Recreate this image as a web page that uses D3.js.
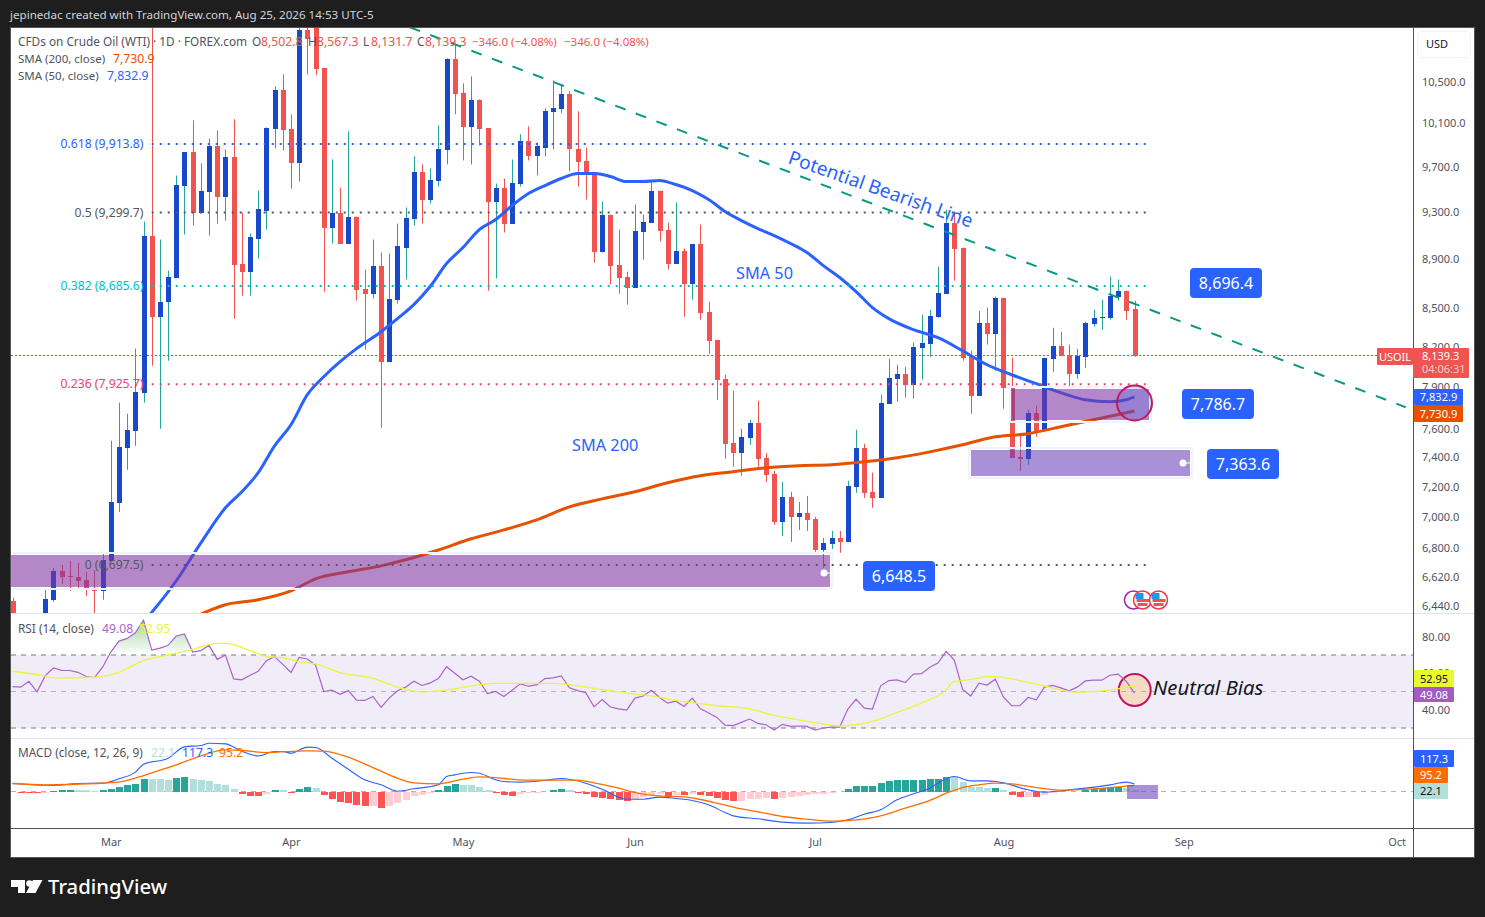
<!DOCTYPE html>
<html>
<head>
<meta charset="utf-8">
<script src="https://d3js.org/d3.v7.min.js"></script>
<style>
body { margin: 0; background: #1e1e1e; overflow: hidden; }
text { font-family: "Noto Sans", "Open Sans", sans-serif; }
</style>
</head>
<body>
<div id="chart"></div>
<script>
// daily candles
var highs = [
  6496,6340,6340,6340,6547,6680,6698,6723,6711,6655,
  6667,6780,7519,7791,7711,8193,9222,11100,9070,8811,
  9627,9836,10134,9736,9965,10040,9863,10144,9300,9120,
  9493,10068,10461,10578,10191,11100,11100,11100,10637,9772,
  9519,10031,9266,8819,9070,8961,8952,9205,9344,9800,
  9727,9690,10087,10737,10889,10490,10559,10335,10059,9555,
  9600,9772,10003,10078,9928,10248,10520,10480,10412,10220,
  9881,9654,9396,9283,9154,8803,9370,9283,9582,9493,
  9214,9388,8994,9028,9197,8560,8262,7996,7878,7604,
  7668,7805,7435,7312,7237,7170,7103,7143,7005,6869,
  6914,6914,7244,7597,7498,7299,7849,8116,8071,8056,
  8239,8456,8496,8844,9327,9292,9002,8177,8488,8512,
  8600,8592,8124,7569,7740,7769,8124,8354,8323,8224,
  8193,8401,8496,8576,8762,8738,8648,8567.3];
var opens = [
  6478,6330,6330,6330,6370,6484,6661,6630,6624,6606,
  6556,6538,6723,7097,7470,7590,7864,9103,8440,8560,
  8754,9537,9836,9300,9484,9891,9440,9790,8869,8803,
  9078,9318,10049,10422,10049,9736,11022,11060,10637,9171,
  9300,9036,9266,8664,8624,8852,8094,8576,9002,9248,
  9654,9414,9582,9854,10727,10393,10068,10325,10059,9388,
  9519,9205,9555,9937,9800,9881,10210,10239,10383,9872,
  9754,9654,8961,9283,8860,8762,8673,9137,9214,9493,
  9154,8869,8977,8705,9028,8480,8262,7966,7505,7435,
  7540,7647,7401,7292,6972,7137,7005,7031,6992,6792,
  6831,6869,6843,7204,7470,7170,7130,7783,7966,8004,
  7922,8200,8231,8440,8624,9214,9002,8139,7842,8393,
  8308,8592,7907,7408,7394,7718,7597,8116,8216,8147,
  8004,8131,8386,8432,8432,8600,8648,8502.8];
var closes = [
  6327,6310,6310,6310,6490,6661,6624,6624,6600,6550,
  6538,6730,7103,7477,7597,7871,9103,8440,8560,8762,
  9546,9836,9300,9493,9891,9440,9790,8860,8803,9087,
  9327,10059,10422,10040,9736,11022,10929,10627,9171,9300,
  9036,9266,8656,8624,8852,8094,8584,9011,9257,9654,
  9414,9591,9863,10727,10383,10068,10325,10049,9388,9519,
  9205,9564,9937,9800,9891,10220,10248,10383,9863,9745,
  9645,8961,9283,8852,8754,8673,9146,9222,9493,9146,
  8869,8977,8705,9028,8472,8254,7959,7498,7435,7547,
  7647,7394,7285,6972,7137,7005,7031,6985,6792,6837,
  6869,6843,7210,7470,7164,7130,7791,7974,8004,7922,
  8208,8239,8448,8632,9214,8994,8124,7842,8393,8308,
  8592,7900,7401,7394,7718,7590,8124,8216,8139,8004,
  8139,8393,8432,8440,8608,8648,8485.3,8139.3];
var lows = [
  6297,6300,6300,6300,6340,6472,6581,6538,6550,6508,
  6370,6484,6723,7037,7319,7484,7791,8064,7604,8101,
  8754,9112,9188,9300,9103,9205,9231,8425,8608,8608,
  8910,9154,9872,9854,9510,9573,10578,10569,8640,9036,
  9036,9036,8568,8185,8584,7611,8094,8544,8738,9188,
  9205,9379,9528,9727,10191,9763,9727,9900,8648,8746,
  9129,9205,9528,9763,9627,9800,9863,10201,9663,9528,
  9414,8877,8961,8697,8624,8536,8673,8902,9214,9053,
  8819,8869,8440,8576,8417,8154,7812,7394,7339,7278,
  7491,7332,7237,6953,6882,6843,6920,6914,6780,6680,
  6799,6774,6843,7164,7130,7064,7130,7783,7798,7827,
  7820,7959,8131,8432,8624,8729,8101,7711,7842,8224,
  8026,7747,7401,7312,7353,7547,7597,8018,8139,7900,
  7966,8048,8362,8339,8417,8568,8417,8131.7];

var sma50Days = [16,20,23,26,28,30,32,34,36,38,40,42,45,47,49,51,53,55,57,59,61,63,65,67,69,71,73,75,77,79,81,83,85,87,89,91,93,95,97,99,101,103,105,107,110,113,116,119,122,125,128,131,134,136,137];
var sma50 = [6350,6600,6837,7064,7170,7299,7484,7632,7849,7981,8094,8193,8323,8425,8536,8681,8869,9002,9154,9240,9362,9467,9537,9600,9645,9645,9618,9573,9573,9582,9546,9493,9414,9309,9231,9163,9103,9036,8961,8852,8754,8640,8512,8425,8339,8277,8177,8071,7996,7930,7864,7812,7798,7812,7832.9];
var sma200Days = [22,26,30,34,37,41,45,48,52,56,60,64,68,72,76,80,84,88,92,96,100,104,108,112,116,120,124,128,132,137];
var sma200 = [6375,6454,6484,6538,6612,6655,6692,6730,6792,6863,6920,6985,7070,7123,7170,7231,7278,7306,7332,7346,7353,7373,7401,7442,7491,7547,7569,7618,7668,7730.9];

var rsi = [
  52.7,52.4,55.6,49.8,58.7,62.9,61.6,61.5,60.5,58.2,
  57.6,63.3,71.6,77.6,79.1,82.2,89.1,72.7,73.8,75.3,
  80.4,81.5,71.6,72.4,75.3,67.6,70,56.9,56.4,58.9,
  61.1,66.9,69.1,64.9,60.4,68.7,67.8,64.5,50,50.7,
  48.5,50.5,45.3,45.1,47.3,41.3,46.4,50.4,52.4,55.6,
  53.3,54.7,57.1,63.6,60,56.4,58.4,55.6,48.9,50,
  47.3,50.7,54.2,52.9,53.6,57.1,57.5,58.5,52,50.5,
  49.3,41.6,45.6,41.5,40.5,39.8,46.4,47.5,50.7,46.7,
  43.6,44.7,41.8,46.4,40.5,38.2,35.8,31.6,31.3,33.1,
  34.9,32.5,31.8,28.9,32,30.9,31.1,30.9,28.9,30,
  30.5,30.5,40.4,45.8,40.9,40.4,53.1,56,56.4,54.9,
  59.5,59.8,63.3,65.6,72,67.1,51.3,47.5,54.5,53.5,
  56.7,46.9,42.2,42.2,46.7,45.5,52.4,53.3,52,50.4,
  52.4,55.8,56.2,56.2,58.9,59.5,55.5,49.08];
var rsiMaDays = [0,4,5,10,13,16,19,22,25,26,29,31,33,35,37,40,44,47,50,53,56,59,62,66,70,74,78,82,86,90,93,96,99,101,102,105,108,111,114,115,116,118,119,120,121,126,129,130,134,136,137];
var rsiMa = [61.1,58.5,57.5,57.8,60.5,66.9,70,73.1,76.4,76.4,72.4,69.3,68.5,66.4,65.1,60.4,57.3,52.4,49.8,50.9,53.1,54.5,54.5,54.5,52.4,49.8,47.6,44.4,42.2,40.5,36.9,34.5,32.2,31.1,31.3,33.6,38.5,43.6,50.9,55.5,56,57.3,58.2,58.2,57.6,53.1,50,49.6,50.7,52.4,52.95];

var macdDays = [0,5,8,11,13,15,16,19,21,23,24,26,28,30,32,33,34,36,37,39,41,43,45,47,49,52,53,54,56,57,59,60,62,65,67,70,72,75,77,79,81,83,85,87,88,91,94,97,100,102,104,106,108,110,112,113,115,117,119,120,121,124,126,128,131,134,136,137];
var macd = [125,94,125,130,198,302,426,520,697,718,754,744,629,556,624,624,598,692,686,520,348,182,104,5,42,104,234,260,296,286,182,156,146,172,203,130,36,-120,-120,-88,-109,-140,-208,-328,-380,-426,-478,-494,-484,-442,-354,-286,-130,-36,52,130,234,166,166,156,135,26,-10,10,52,104,146,117.3];
var signalDays = [0,4,10,13,15,18,20,23,26,28,31,36,38,41,44,47,49,52,55,57,59,60,63,66,69,71,74,76,79,82,84,86,88,91,94,97,100,103,106,109,112,114,116,118,120,122,125,128,132,135,137];
var signal = [125,104,125,146,208,333,416,556,650,640,608,634,629,536,374,208,135,120,192,229,218,203,177,177,177,135,52,-16,-68,-83,-125,-182,-244,-317,-390,-432,-463,-442,-380,-260,-140,-26,62,104,130,120,62,21,42,73,95.2];
var hist = [
  -5,-21,-21.5,-22,-20,10,26,27,21,20,
  10,26,42,73,104,120,198,197,196,182,
  213,229,198,182,166,120,104,42,-36,-68,
  -69,-36,26,25,-21,42,73,57,-52,-114,
  -161,-177,-208,-224,-223,-255,-224,-177,-130,-68,
  -52,-21,26,88,120,104,103,73,26,-21,
  -52,-68,-36,-31,-21,-5,26,42,26,-21,
  -36,-83,-99,-114,-130,-146,-114,-83,-52,-36,
  -68,-52,-53,-36,-52,-68,-99,-130,-146,-145,
  -114,-113,-99,-114,-99,-83,-68,-52,-36,-35,
  -21,-5,42,88,89,90,135,166,182,183,
  184,185,198,199,229,228,151,73,72,57,
  58,21,-52,-83,-82,-83,-47,-21,-10,-9,
  -8,21,42,52,57,73,57,22.1];

var monthDays = [12,34,55,76,98,121,143,169];
var monthLabels = ["Mar","Apr","May","Jun","Jul","Aug","Sep","Oct"];
var priceTicks = [10500,10100,9700,9300,8900,8500,8200,7900,7600,7400,7200,7000,6800,6620,6440];
var rsiTicks = [80,60,40];

var fibLevels = [0.618,0.5,0.382,0.236,0];
var fibPrices = [9913.8,9299.7,8685.6,7925.7,6697.5];
var fibColors = ["#2962ff","#555761","#00bcd4","#ec407a","#555761"];
var lastClose = 8139.3;
var trendDays = [48.5,170.1];
var trendPrices = [11053,7758];

function start(){
    var width = 1485, height = 917;
    var paneLeft = 11, axisX = 1413, frameRight = 1474;
    var mainTop = 27, mainBottom = 613, rsiBottom = 738, macdBottom = 828, frameBottom = 857;

    var svg = d3.select("#chart").append("svg")
        .attr("width", width)
        .attr("height", height);
    var defs = svg.append("defs");

    svg.append("text").attr("x", 10).attr("y", 19).attr("fill", "#d1d4dc")
        .style("font-size", "11.6px")
        .text("jepinedac created with TradingView.com, Aug 25, 2026 14:53 UTC-5");

    svg.append("rect").attr("x", 10.5).attr("y", 27.5)
        .attr("width", frameRight - 10).attr("height", frameBottom - 27)
        .attr("fill", "#fff").attr("stroke", "#555");

    var x = d3.scaleLinear().domain([0, 169]).range([12.5, 12.5 + 169 * 8.19]);
    var y = d3.scaleLog().domain([10500, 6440]).range([82.3, 607.1]);
    var yRsi = d3.scaleLinear().domain([70, 30]).range([655, 728]);
    var yMacd = d3.scaleLinear().domain([0, 757]).range([791.5, 743]);

    function clip(id, top, bottom){
        defs.append("clipPath").attr("id", id).append("rect")
            .attr("x", paneLeft).attr("y", top)
            .attr("width", axisX - paneLeft).attr("height", bottom - top);
    }
    clip("clipMain", mainTop + 1, mainBottom);
    clip("clipRsi", mainBottom, rsiBottom);
    clip("clipMacd", rsiBottom, macdBottom);

    // main pane
    var main = svg.append("g").attr("clip-path", "url(#clipMain)");
    var days = d3.range(closes.length);

    var lastY = Math.floor(y(lastClose)) + 0.5;
    main.append("line").attr("x1", paneLeft).attr("x2", axisX)
        .attr("y1", lastY).attr("y2", lastY)
        .attr("stroke", "#ff3b3b").attr("stroke-dasharray", "2 2")
        .attr("shape-rendering", "crispEdges");

    function upDay(i){ return closes[i] >= opens[i]; }

    main.append("g").selectAll("line").data(days).enter().append("line")
        .attr("x1", d => Math.round(x(d)) + 0.5).attr("x2", d => Math.round(x(d)) + 0.5)
        .attr("y1", d => y(highs[d])).attr("y2", d => y(lows[d]))
        .attr("stroke", d => upDay(d) ? "#26a69a" : "#ef5350");

    main.append("g").selectAll("rect").data(days).enter().append("rect")
        .attr("x", d => Math.round(x(d)) - 2)
        .attr("width", 5)
        .attr("y", d => y(Math.max(opens[d], closes[d])))
        .attr("height", d => Math.max(1, Math.abs(y(opens[d]) - y(closes[d]))))
        .attr("fill", d => upDay(d) ? "#1848cc" : "#f05350")
        .attr("shape-rendering", "crispEdges");

    var smaLine = d3.line().x(d => x(d[0])).y(d => y(d[1])).curve(d3.curveMonotoneX);
    main.append("path").attr("d", smaLine(d3.zip(sma200Days, sma200)))
        .attr("fill", "none").attr("stroke", "#e65100").attr("stroke-width", 3);
    main.append("path").attr("d", smaLine(d3.zip(sma50Days, sma50)))
        .attr("fill", "none").attr("stroke", "#2962ff").attr("stroke-width", 3);

    // drawn zones sit on top of the candles
    function zone(parent, x1, y1, x2, y2, color){
        parent.append("rect").attr("x", x1 - 2).attr("y", y1 - 2)
            .attr("width", x2 - x1 + 4).attr("height", y2 - y1 + 4)
            .attr("fill", "none").attr("stroke", "#f0f3fa").attr("stroke-width", 2);
        parent.append("rect").attr("x", x1).attr("y", y1)
            .attr("width", x2 - x1).attr("height", y2 - y1).attr("fill", color);
    }
    var plum = "rgba(126,50,160,0.58)", violet = "rgba(103,58,183,0.56)";
    zone(main, 8, 555, 830, 587, plum);
    zone(main, 1012, 389, 1149, 420, plum);
    zone(main, 971, 450, 1190, 476, violet);

    main.append("circle").attr("cx", 824).attr("cy", 573).attr("r", 3.5).attr("fill", "#fff");
    main.append("line").attr("x1", 824).attr("x2", 830).attr("y1", 573).attr("y2", 573).attr("stroke", "#fff");
    main.append("circle").attr("cx", 1183).attr("cy", 463).attr("r", 3.5).attr("fill", "#fff");
    main.append("line").attr("x1", 1183).attr("x2", 1190).attr("y1", 463).attr("y2", 463).attr("stroke", "#fff");

    main.append("circle").attr("cx", 1134.5).attr("cy", 403).attr("r", 17.5)
        .attr("fill", "rgba(33,100,243,0.18)").attr("stroke", "#c2185b").attr("stroke-width", 2);

    // fib levels
    fibLevels.forEach(function(level, k){
        var fy = y(fibPrices[k]);
        main.append("line").attr("x1", x(17)).attr("x2", x(138.5))
            .attr("y1", fy).attr("y2", fy)
            .attr("stroke", fibColors[k]).attr("stroke-width", 2)
            .attr("stroke-dasharray", "2 6");
        svg.append("text").attr("x", 143.5).attr("y", fy + 4)
            .attr("text-anchor", "end").attr("fill", fibColors[k])
            .style("font-size", "12.2px")
            .text(level + " (" + d3.format(",.1f")(fibPrices[k]) + ")");
    });

    main.append("line")
        .attr("x1", x(trendDays[0])).attr("y1", y(trendPrices[0]))
        .attr("x2", x(trendDays[1])).attr("y2", y(trendPrices[1]))
        .attr("stroke", "#089981").attr("stroke-width", 2)
        .attr("stroke-dasharray", "11 11");

    // notes on the chart
    svg.append("text").attr("transform", "translate(787,163) rotate(19.5)")
        .attr("fill", "#2962ff").style("font-size", "19px").text("Potential Bearish Line");
    svg.append("text").attr("x", 736).attr("y", 279)
        .attr("fill", "#2962ff").style("font-size", "16.3px").text("SMA 50");
    svg.append("text").attr("x", 572).attr("y", 451)
        .attr("fill", "#2962ff").style("font-size", "16.3px").text("SMA 200");

    var callouts = [[1190, 268, "8,696.4"], [1182, 389, "7,786.7"], [1207, 449, "7,363.6"], [863, 561, "6,648.5"]];
    callouts.forEach(function(c){
        svg.append("rect").attr("x", c[0]).attr("y", c[1])
            .attr("width", 72).attr("height", 30).attr("rx", 4).attr("fill", "#2962ff");
        svg.append("text").attr("x", c[0] + 36).attr("y", c[1] + 21)
            .attr("text-anchor", "middle").attr("fill", "#fff")
            .style("font-size", "16px").text(c[2]);
    });

    // calendar markers
    svg.append("circle").attr("cx", 1133.5).attr("cy", 600).attr("r", 9)
        .attr("fill", "#fff").attr("stroke", "#9c27b0").attr("stroke-width", 1.5);
    [1142.5, 1158.5].forEach(function(cx){
        var flag = svg.append("g").attr("transform", "translate(" + cx + ",600)");
        flag.append("circle").attr("r", 9).attr("fill", "#fff").attr("stroke", "#f23645").attr("stroke-width", 1.5);
        flag.append("rect").attr("x", -6).attr("y", -1).attr("width", 13).attr("height", 3).attr("fill", "#ef5350");
        flag.append("rect").attr("x", -5).attr("y", 3).attr("width", 10).attr("height", 3).attr("fill", "#ef5350");
        flag.append("rect").attr("x", -7).attr("y", -7).attr("width", 8).attr("height", 6).attr("fill", "#2196f3");
    });

    // rsi pane
    var rsiPane = svg.append("g").attr("clip-path", "url(#clipRsi)");
    rsiPane.append("rect").attr("x", paneLeft).attr("y", yRsi(70))
        .attr("width", axisX - paneLeft).attr("height", yRsi(30) - yRsi(70))
        .attr("fill", "rgba(126,87,194,0.11)");
    [[70, "#787b86"], [50, "#b2b5be"], [30, "#787b86"]].forEach(function(l){
        rsiPane.append("line").attr("x1", paneLeft).attr("x2", axisX)
            .attr("y1", yRsi(l[0])).attr("y2", yRsi(l[0]))
            .attr("stroke", l[1]).attr("stroke-dasharray", "5 5");
    });

    var grad = defs.append("linearGradient").attr("id", "obFill")
        .attr("gradientUnits", "userSpaceOnUse")
        .attr("x1", 0).attr("x2", 0).attr("y1", yRsi(90)).attr("y2", yRsi(70));
    grad.append("stop").attr("offset", 0).attr("stop-color", "#4caf50").attr("stop-opacity", 0.55);
    grad.append("stop").attr("offset", 1).attr("stop-color", "#4caf50").attr("stop-opacity", 0);
    var obArea = d3.area().x((d, i) => x(i)).y0(yRsi(70)).y1(d => yRsi(Math.max(d, 70)));
    rsiPane.append("path").attr("d", obArea(rsi)).attr("fill", "url(#obFill)");

    rsiPane.append("circle").attr("cx", 1134.7).attr("cy", 690).attr("r", 16)
        .attr("fill", "rgba(255,152,0,0.2)").attr("stroke", "#c2185b").attr("stroke-width", 2);

    rsiPane.append("path")
        .attr("d", d3.line().x((d, i) => x(i)).y(d => yRsi(d))(rsi))
        .attr("fill", "none").attr("stroke", "#ab63cc").attr("stroke-width", 1.2);
    rsiPane.append("path")
        .attr("d", d3.line().x(d => x(d[0])).y(d => yRsi(d[1])).curve(d3.curveMonotoneX)(d3.zip(rsiMaDays, rsiMa)))
        .attr("fill", "none").attr("stroke", "#e8f53b").attr("stroke-width", 1.3);

    svg.append("text").attr("x", 1153).attr("y", 695).attr("fill", "#131722")
        .style("font-size", "20.3px").style("font-style", "italic").text("Neutral Bias");

    // macd pane
    var macdPane = svg.append("g").attr("clip-path", "url(#clipMacd)");
    macdPane.append("line").attr("x1", paneLeft).attr("x2", axisX)
        .attr("y1", yMacd(0)).attr("y2", yMacd(0))
        .attr("stroke", "#b2b5be").attr("stroke-dasharray", "5 5");

    function histColor(d, i){
        var prev = i > 0 ? hist[i - 1] : 0;
        if (d >= 0) return d > prev ? "#26a69a" : "#b2dfdb";
        return d < prev ? "#ff5252" : "#ffcdd2";
    }
    macdPane.append("g").selectAll("rect").data(hist).enter().append("rect")
        .attr("x", (d, i) => Math.round(x(i)) - 3)
        .attr("width", 7)
        .attr("y", d => Math.min(yMacd(d), yMacd(0)))
        .attr("height", d => Math.abs(yMacd(d) - yMacd(0)))
        .attr("fill", histColor)
        .attr("shape-rendering", "crispEdges");

    var macdLine = d3.line().x(d => x(d[0])).y(d => yMacd(d[1])).curve(d3.curveMonotoneX);
    macdPane.append("path").attr("d", macdLine(d3.zip(macdDays, macd)))
        .attr("fill", "none").attr("stroke", "#2962ff").attr("stroke-width", 1.1);
    macdPane.append("path").attr("d", macdLine(d3.zip(signalDays, signal)))
        .attr("fill", "none").attr("stroke", "#ff6d00").attr("stroke-width", 1.3);
    macdPane.append("rect").attr("x", 1127).attr("y", 785).attr("width", 31).attr("height", 14).attr("fill", violet);

    // pane borders
    svg.append("line").attr("x1", paneLeft).attr("x2", frameRight).attr("y1", mainBottom + 0.5).attr("y2", mainBottom + 0.5).attr("stroke", "#e0e3eb");
    svg.append("line").attr("x1", paneLeft).attr("x2", frameRight).attr("y1", rsiBottom + 0.5).attr("y2", rsiBottom + 0.5).attr("stroke", "#e0e3eb");
    svg.append("line").attr("x1", paneLeft).attr("x2", frameRight).attr("y1", macdBottom + 0.5).attr("y2", macdBottom + 0.5).attr("stroke", "#50535e");
    svg.append("line").attr("x1", axisX + 0.5).attr("x2", axisX + 0.5).attr("y1", mainTop).attr("y2", frameBottom).attr("stroke", "#50535e");

    // axes
    function styleAxis(g){
        g.select(".domain").remove();
        g.selectAll("line").remove();
        g.selectAll("text").attr("fill", "#50535e").style("font-size", "11px");
    }
    svg.append("g").attr("transform", "translate(" + (axisX + 9) + ",-0.8)")
        .call(d3.axisRight(y).tickValues(priceTicks).tickSize(0).tickPadding(0).tickFormat(d3.format(",.1f")))
        .call(styleAxis);
    svg.append("g").attr("transform", "translate(" + (axisX + 9) + ",0)")
        .call(d3.axisRight(yRsi).tickValues(rsiTicks).tickSize(0).tickPadding(0).tickFormat(d3.format(".2f")))
        .call(styleAxis);
    svg.append("g").attr("transform", "translate(0," + (macdBottom + 10) + ")")
        .call(d3.axisBottom(x).tickValues(monthDays).tickSize(0).tickPadding(0).tickFormat((d, i) => monthLabels[i]))
        .call(styleAxis);

    svg.append("rect").attr("x", 1417.5).attr("y", 31.5).attr("width", 53).attr("height", 26).attr("rx", 3)
        .attr("fill", "#fff").attr("stroke", "#f0f3fa");
    svg.append("text").attr("x", 1426).attr("y", 48).attr("fill", "#131722").style("font-size", "11px").text("USD");

    // axis tags
    function tag(x1, x2, y1, y2, color, label, textColor){
        svg.append("rect").attr("x", x1).attr("y", y1).attr("width", x2 - x1).attr("height", y2 - y1)
            .attr("rx", 1).attr("fill", color);
        svg.append("text").attr("x", (x1 + x2) / 2).attr("y", (y1 + y2) / 2 + 4)
            .attr("text-anchor", "middle").attr("fill", textColor)
            .style("font-size", "11px").text(label);
    }
    tag(1377, 1413, 348, 365, "#f05350", "USOIL", "#fff");
    svg.append("rect").attr("x", 1413).attr("y", 348).attr("width", 56).attr("height", 30).attr("rx", 1).attr("fill", "#f05350");
    svg.append("text").attr("x", 1422).attr("y", 360).attr("fill", "#fff").style("font-size", "11px").text("8,139.3");
    svg.append("text").attr("x", 1422).attr("y", 373).attr("fill", "#fcc").style("font-size", "11px").text("04:06:31");
    tag(1414, 1463, 389, 405, "#2962ff", "7,832.9", "#fff");
    tag(1414, 1463, 405, 422, "#e65100", "7,730.9", "#fff");
    tag(1414, 1454, 670, 687, "#e8f92e", "52.95", "#131722");
    tag(1414, 1454, 687, 702, "#a25ac4", "49.08", "#fff");
    tag(1414, 1454, 750, 767, "#2962ff", "117.3", "#fff");
    tag(1414, 1448, 767, 783, "#ff6d00", "95.2", "#fff");
    tag(1414, 1448, 783, 799, "#b2dfdb", "22.1", "#131722");

    // legends
    function legend(xPos, yPos, color, label, size){
        svg.append("text").attr("x", xPos).attr("y", yPos).attr("fill", color)
            .style("font-size", (size || 11.8) + "px").text(label);
    }
    var grey = "#50535e", red = "#f05350";
    legend(18, 46, grey, "CFDs on Crude Oil (WTI) · 1D · FOREX.com");
    legend(252, 46, grey, "O"); legend(261, 46, red, "8,502.8", 12.2);
    legend(308, 46, grey, "H"); legend(317, 46, red, "8,567.3", 12.2);
    legend(363, 46, grey, "L"); legend(371, 46, red, "8,131.7", 12.2);
    legend(417, 46, grey, "C"); legend(425, 46, red, "8,139.3", 12.2);
    legend(472, 46, red, "−346.0 (−4.08%)", 11.5);
    legend(564, 46, red, "−346.0 (−4.08%)", 11.5);
    legend(18, 63, grey, "SMA (200, close)", 11.5); legend(113, 63, "#e65100", "7,730.9", 12.2);
    legend(18, 80, grey, "SMA (50, close)", 11.5); legend(107, 80, "#2962ff", "7,832.9", 12.2);
    legend(18, 633, grey, "RSI (14, close)"); legend(102, 633, "#ab63cc", "49.08", 12.2); legend(139, 633, "#e8f53b", "52.95", 12.2);
    legend(18, 757, grey, "MACD (close, 12, 26, 9)"); legend(151, 757, "#b2dfdb", "22.1", 12.2);
    legend(182, 757, "#2962ff", "117.3", 12.2); legend(219, 757, "#ff6d00", "95.2", 12.2);

    // brand mark
    var logo = svg.append("g").attr("fill", "#fff");
    logo.append("path").attr("d", "M11 880H25V893H18V887H11Z");
    logo.append("circle").attr("cx", 29.5).attr("cy", 883.5).attr("r", 3.3);
    logo.append("path").attr("d", "M33 880H42.5L35.5 893H26Z");
    logo.append("text").attr("x", 48).attr("y", 894).attr("fill", "#fff")
        .style("font-size", "20.3px").style("font-weight", 500).text("TradingView");
}

start()
</script>
</body>
</html>
